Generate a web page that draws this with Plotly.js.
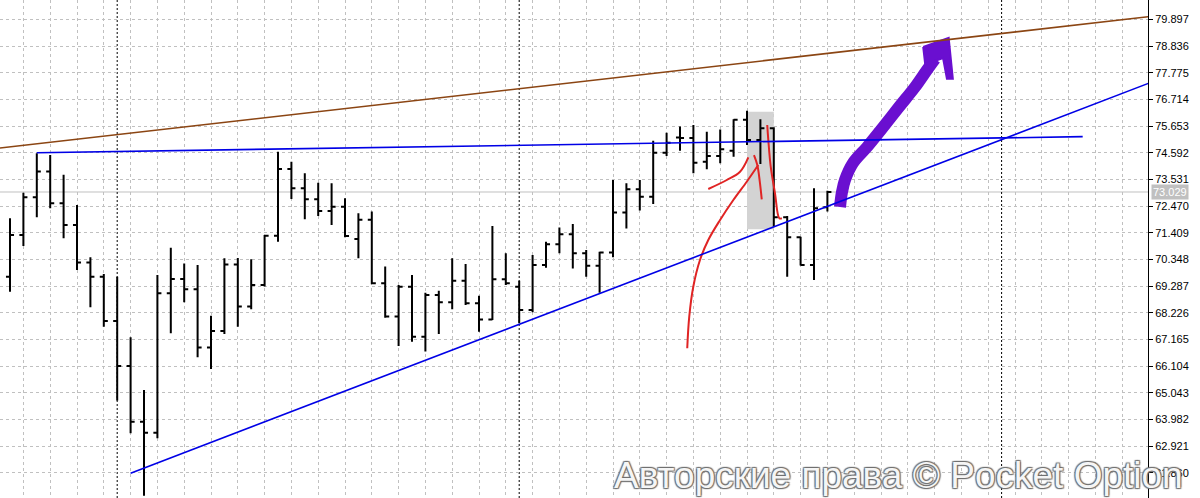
<!DOCTYPE html>
<html>
<head>
<meta charset="utf-8">
<script src="https://cdn.plot.ly/plotly-3.0.1.min.js"></script>
<style>
  html, body { margin: 0; padding: 0; background: #ffffff; }
  #chart { width: 1200px; height: 498px; }
</style>
</head>
<body>
<div id="chart"></div>
<script>
// ---- Data ----
const barIndex = [0,1,2,3,4,5,6,7,8,9,10,11,12,13,14,15,16,17,18,19,20,21,22,23,24,25,26,27,28,29,30,
  31,32,33,34,35,36,37,38,39,40,41,42,43,44,45,46,47,48,49,50,51,52,53,54,55,56,57,58,59,60,61];
const openP  = [69.66,71.32,72.82,73.84,72.58,71.72,70.22,69.66,67.90,66.11,63.89,63.45,69.00,69.57,69.16,66.84,
  67.50,70.14,68.47,69.33,71.29,73.94,73.18,72.74,72.27,72.44,71.16,71.92,69.40,68.08,69.26,67.27,68.93,68.64,
  69.50,68.60,67.96,69.56,69.26,68.33,70.12,70.95,71.35,70.59,70.09,70.62,72.21,73.14,72.84,74.59,75.20,75.18,
  74.23,74.46,74.67,75.90,75.10,75.56,72.02,71.23,70.12,72.42];
const highP  = [71.98,73.00,74.57,74.50,73.71,72.51,70.43,69.77,69.66,67.25,65.15,69.73,70.81,70.18,70.12,68.11,
  70.39,70.40,70.35,71.32,74.63,74.23,73.77,73.40,73.38,72.78,72.18,72.25,70.06,69.33,69.73,69.02,69.10,70.39,
  70.16,68.90,71.68,70.59,69.50,70.52,71.05,71.62,71.76,70.72,70.65,73.51,73.38,73.51,75.07,75.39,75.63,75.69,
  75.43,75.52,75.92,76.26,75.92,75.60,72.07,71.25,73.18,73.08];
const lowP   = [69.06,70.88,72.02,72.38,71.19,69.93,68.44,67.67,64.73,63.43,60.94,63.23,67.41,68.64,66.45,65.99,
  67.38,67.67,68.36,69.27,71.05,72.75,71.94,72.07,71.72,71.23,70.39,69.36,68.03,66.90,67.07,66.68,67.38,68.36,
  68.53,67.47,67.94,69.33,67.81,68.24,70.02,70.59,69.99,69.66,69.02,70.43,71.58,72.29,72.55,74.46,74.67,73.77,
  73.93,74.17,74.43,74.90,74.14,71.65,69.66,70.10,69.53,72.25];
const closeP = [71.32,72.82,73.84,72.58,71.72,70.22,69.66,67.90,66.11,63.89,63.45,69.00,69.57,69.16,66.84,67.50,
  70.14,68.47,69.33,71.29,73.94,73.18,72.74,72.27,72.44,71.28,71.92,69.40,68.08,69.26,67.27,68.93,68.64,69.50,
  68.60,67.96,69.56,69.40,68.33,70.12,70.95,71.35,70.59,70.09,70.62,72.21,73.14,72.84,74.59,74.99,75.18,74.19,
  74.46,74.73,75.90,75.10,75.56,72.02,71.23,70.12,72.38,73.03];

const yTicks = [79.897,78.836,77.775,76.714,75.653,74.592,73.531,72.470,71.409,70.348,69.287,68.226,67.165,
  66.104,65.043,63.982,62.921,61.860];
const bidPrice = 73.029;
const periodSeparators = [8, 38, 74];

// Drawing objects, in (bar index, price)
const brownLineX = [-0.75, 84.95], brownLineY = [74.78, 80.00];
const blueFlatX  = [2, 80.05],     blueFlatY  = [74.59, 75.23];
const blueRiseX  = [9, 84.95],     blueRiseY  = [61.84, 77.35];
const grayRectX  = [55, 57],       grayRectY  = [71.545, 76.223];

const redAX = [50.54,50.69,50.99,51.49,52.11,52.99,53.98,54.98,55.84];
const redAY = [66.811,68.068,69.261,70.323,71.119,71.915,72.710,73.438,74.103];
const redBX = [52.11,53.49,54.48,55.10];
const redBY = [73.148,73.506,73.836,74.409];
const redCX = [55.52,55.77,55.97,56.10];
const redCY = [74.500,74.103,73.375,72.738];
const redDX = [56.51,56.59,56.77,57.09,57.41,57.60];
const redDY = [75.694,75.097,74.035,72.977,71.982,71.982];

const arrowX = [61.94,62.09,62.31,62.91,63.96,64.93,66.34,67.54,68.43,69.03];
const arrowY = [72.432,73.029,73.506,74.182,74.819,75.455,76.410,77.206,77.882,78.320];
const arrowHeadX = [68.15,70.05,70.36,69.92,69.63,68.73,68.30,68.15];
const arrowHeadY = [78.800,79.160,77.530,77.530,78.359,78.180,78.110,78.800];

// ---- Traces ----
const purple = '#6a0fd0';
const red = '#e02424';
const traces = [
  {
    type: 'ohlc', x: barIndex, open: openP, high: highP, low: lowP, close: closeP,
    increasing: {line: {color: '#000000', width: 2}},
    decreasing: {line: {color: '#000000', width: 2}},
    tickwidth: 0.3, hoverinfo: 'skip', showlegend: false
  },
  {type:'scatter', mode:'lines', x: redAX, y: redAY, line:{color: red, width: 2, shape:'spline'}, hoverinfo:'skip', showlegend:false},
  {type:'scatter', mode:'lines', x: redBX, y: redBY, line:{color: red, width: 2, shape:'spline'}, hoverinfo:'skip', showlegend:false},
  {type:'scatter', mode:'lines', x: redCX, y: redCY, line:{color: red, width: 2, shape:'spline'}, hoverinfo:'skip', showlegend:false},
  {type:'scatter', mode:'lines', x: redDX, y: redDY, line:{color: red, width: 2, shape:'spline'}, hoverinfo:'skip', showlegend:false},
  {type:'scatter', mode:'lines', x: arrowX, y: arrowY, line:{color: purple, width: 12, shape:'spline'}, hoverinfo:'skip', showlegend:false},
  {type:'scatter', mode:'lines', x: arrowHeadX, y: arrowHeadY, fill:'toself', fillcolor: purple,
   line:{color: purple, width: 2}, hoverinfo:'skip', showlegend:false}
];

// ---- Shapes ----
const shapes = [];
shapes.push({type:'rect', xref:'x', yref:'y', x0: grayRectX[0], x1: grayRectX[1], y0: grayRectY[0], y1: grayRectY[1],
  fillcolor:'#d3d3d3', line:{width:0}, layer:'between'});
shapes.push({type:'line', xref:'paper', yref:'y', x0: 0, x1: 1, y0: bidPrice, y1: bidPrice,
  line:{color:'#c0c0c0', width:1}, layer:'between'});
periodSeparators.forEach(function (k) {
  shapes.push({type:'line', xref:'x', yref:'paper', x0: k, x1: k, y0: 0, y1: 1,
    line:{color:'#000000', width:1, dash:'2px,2px'}, layer:'between'});
});
function seg(xs, ys, color) {
  return {type:'line', xref:'x', yref:'y', x0: xs[0], x1: xs[1], y0: ys[0], y1: ys[1],
    line:{color: color, width: 1.6}, layer:'above'};
}
shapes.push(seg(brownLineX, brownLineY, '#8b4513'));
shapes.push(seg(blueFlatX, blueFlatY, '#0000e6'));
shapes.push(seg(blueRiseX, blueRiseY, '#0000e6'));

// vertical grid every second bar
const xGrid = [];
for (let k = 1; k <= 85; k += 2) xGrid.push(k);

const layout = {
  width: 1200, height: 498,
  margin: {l: 0, r: 52, t: 0, b: 0, pad: 0},
  paper_bgcolor: '#ffffff', plot_bgcolor: '#ffffff',
  font: {family: 'Liberation Sans, Arial, sans-serif', size: 11, color: '#000000'},
  showlegend: false,
  dragmode: false,
  xaxis: {
    range: [-0.746, 84.925], type: 'linear', tickvals: xGrid, showticklabels: false, ticks: '',
    showgrid: true, gridcolor: '#c0c0c0', griddash: '3px,3px', gridwidth: 1,
    zeroline: false, showline: false, rangeslider: {visible: false}, fixedrange: true
  },
  yaxis: {
    range: [60.855, 80.667], side: 'right', tickvals: yTicks, tickformat: '.3f',
    ticks: 'outside', ticklen: 4, tickcolor: '#000000', tickwidth: 1,
    showgrid: true, gridcolor: '#c0c0c0', griddash: '3px,3px', gridwidth: 1,
    zeroline: false, showline: true, linecolor: '#000000', linewidth: 1,
    automargin: false, fixedrange: true,
    tickfont: {family: 'Liberation Sans, Arial, sans-serif', size: 11, color: '#000000'}
  },
  shapes: shapes,
  annotations: [
    {xref:'paper', yref:'y', x: 1, y: bidPrice, xanchor:'left', yanchor:'middle', xshift: 3,
     text: bidPrice.toFixed(3), showarrow: false, bgcolor:'#c0c0c0', borderpad: 1,
     font: {family:'Liberation Sans, Arial, sans-serif', size: 11, color:'#ffffff'}},
    {xref:'paper', yref:'paper', x: 898 / 1148, y: 0.045, xanchor:'center', yanchor:'middle',
     text: 'Авторские права © Pocket Option', showarrow: false,
     font: {family:'Liberation Sans, Arial, sans-serif', size: 37, color:'rgba(255,255,255,0.95)',
       shadow: '1px 1px 1px #6e6e6e, -1px -1px 1px #6e6e6e, 1px -1px 1px #6e6e6e, -1px 1px 1px #6e6e6e'}}
  ]
};

Plotly.newPlot('chart', traces, layout, {displayModeBar: false, staticPlot: true, responsive: false});
</script>
</body>
</html>
